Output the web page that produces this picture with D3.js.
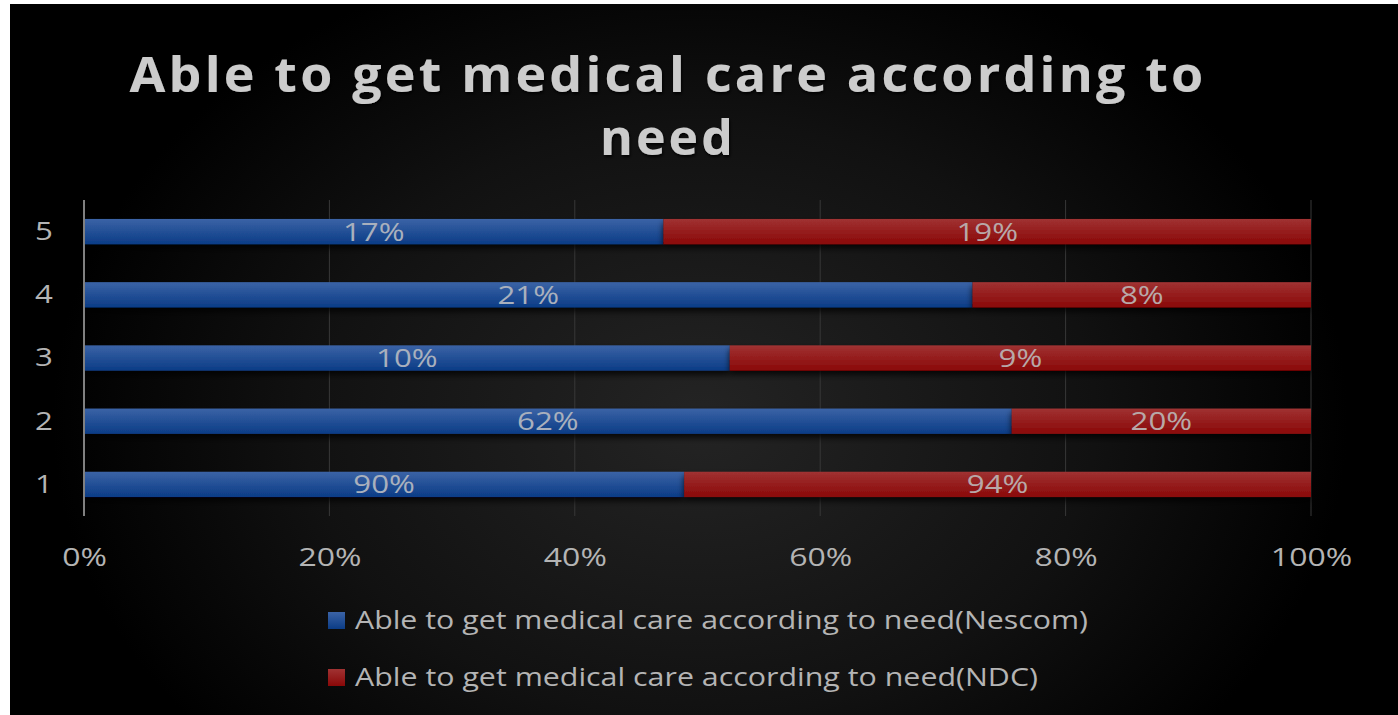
<!DOCTYPE html>
<html><head><meta charset="utf-8">
<script src="https://cdn.jsdelivr.net/npm/d3@7/dist/d3.min.js"></script>
<style>
html,body{margin:0;padding:0;background:#fff;}
svg{display:block;}
text{font-family:"Open Sans",sans-serif;}
</style></head><body>
<svg id="c" width="1398" height="715"></svg>
<script>
const categories = ["1","2","3","4","5"];
const nescom = [90, 62, 10, 21, 17];
const ndc = [94, 20, 9, 8, 19];
const xTicks = [0, 0.2, 0.4, 0.6, 0.8, 1.0];
const seriesNames = ["Able to get medical care according to need(Nescom)", "Able to get medical care according to need(NDC)"];
const titleLines = ["Able to get medical care according to", "need"];

const svg = d3.select("#c");
const W = 1398, H = 715;
const defs = svg.append("defs");

const bg = defs.append("radialGradient").attr("id","bg")
  .attr("gradientUnits","userSpaceOnUse").attr("cx",700).attr("cy",420).attr("r",720)
  .attr("gradientTransform","translate(700,420) scale(1,0.75) translate(-700,-420)");
bg.append("stop").attr("offset","0").attr("stop-color","#242424");
bg.append("stop").attr("offset","0.55").attr("stop-color","#111");
bg.append("stop").attr("offset","0.9").attr("stop-color","#000");
bg.append("stop").attr("offset","1").attr("stop-color","#000");

const gb = defs.append("linearGradient").attr("id","gBlue").attr("x1",0).attr("y1",0).attr("x2",0).attr("y2",1);
gb.append("stop").attr("offset","0").attr("stop-color","#3b63a6");
gb.append("stop").attr("offset","1").attr("stop-color","#0b3c86");
const gr = defs.append("linearGradient").attr("id","gRed").attr("x1",0).attr("y1",0).attr("x2",0).attr("y2",1);
gr.append("stop").attr("offset","0").attr("stop-color","#a03232");
gr.append("stop").attr("offset","1").attr("stop-color","#8a0808");

const sh = defs.append("filter").attr("id","shadow").attr("x","-10%").attr("y","-30%").attr("width","120%").attr("height","180%");
sh.append("feDropShadow").attr("dx",0).attr("dy",4).attr("stdDeviation",3).attr("flood-color","#000").attr("flood-opacity",0.8);
const tsh = defs.append("filter").attr("id","tshadow");
tsh.append("feDropShadow").attr("dx",1).attr("dy",2).attr("stdDeviation",1.5).attr("flood-color","#000").attr("flood-opacity",0.9);

svg.append("rect").attr("x",10).attr("y",4).attr("width",W-10).attr("height",H-4).attr("fill","url(#bg)");

function stretch(sel, k){
  sel.each(function(){
    const w = this.getComputedTextLength();
    d3.select(this).attr("textLength", w*k).attr("lengthAdjust","spacingAndGlyphs");
  });
}

const x = d3.scaleLinear().domain([0,1]).range([84,1311]);
const y = d3.scaleBand().domain(categories.slice().reverse()).range([200,516]).paddingInner(0.6).paddingOuter(0.3);

// gridlines
svg.append("g").selectAll("line").data(xTicks.slice(1)).join("line")
  .attr("x1",d=>x(d)).attr("x2",d=>x(d)).attr("y1",200).attr("y2",516)
  .attr("stroke","#383838").attr("stroke-width",1);

const data = categories.map((c,i)=>({c, a:nescom[i], b:ndc[i], t:nescom[i]+ndc[i]}));

const bars = svg.append("g");
data.forEach(d=>{
  const fa = d.a/d.t;
  bars.append("rect").attr("x",x(0)).attr("y",y(d.c)).attr("width",x(fa)-x(0)).attr("height",y.bandwidth())
    .attr("fill","url(#gBlue)").attr("filter","url(#shadow)");
  bars.append("rect").attr("x",x(fa)).attr("y",y(d.c)).attr("width",x(1)-x(fa)).attr("height",y.bandwidth())
    .attr("fill","url(#gRed)").attr("filter","url(#shadow)");
  bars.append("text").attr("class","vl").attr("x",(x(0)+x(fa))/2).attr("y",y(d.c)+y.bandwidth()/2).attr("dy","0.36em")
    .attr("text-anchor","middle").attr("font-size",25).attr("fill","#a9b0bd").text(d.a+"%");
  bars.append("text").attr("class","vl").attr("x",(x(fa)+x(1))/2).attr("y",y(d.c)+y.bandwidth()/2).attr("dy","0.36em")
    .attr("text-anchor","middle").attr("font-size",25).attr("fill","#b8a8a8").text(d.b+"%");
});
stretch(bars.selectAll("text.vl"), 1.25);

// y axis line
svg.append("line").attr("x1",x(0)).attr("x2",x(0)).attr("y1",200).attr("y2",516).attr("stroke","#808080").attr("stroke-width",2);

// axes labels
const xa = svg.append("g").attr("transform","translate(0,516)")
  .call(d3.axisBottom(x).tickValues(xTicks).tickFormat(d3.format(".0%")).tickSize(0).tickPadding(0));
xa.select(".domain").remove();
xa.selectAll("text").attr("font-size",25).attr("fill","#b4b4b4").attr("y",41).attr("dy","0.36em").attr("font-family","Open Sans");
stretch(xa.selectAll("text"), 1.28);

const ya = svg.append("g").attr("transform","translate(52,0)")
  .call(d3.axisLeft(y).tickSize(0).tickPadding(0));
ya.select(".domain").remove();
ya.selectAll("text").attr("font-size",26).attr("fill","#b4b4b4").attr("text-anchor","middle").attr("x",-8).attr("font-family","Open Sans");
stretch(ya.selectAll("text"), 1.2);

// title
const tg = svg.append("g").attr("filter","url(#tshadow)");
const tW = [1077, 136];
titleLines.forEach((t,i)=>{
  const el = tg.append("text").attr("x",668).attr("y",[92,155][i]).attr("text-anchor","middle")
    .attr("font-size",48).attr("font-weight","bold").attr("fill","#cccccc").attr("letter-spacing",3).text(t);
  el.attr("textLength", tW[i]).attr("lengthAdjust","spacingAndGlyphs");
});

// legend
const leg = svg.append("g");
const legY = [620, 677];
const legCol = ["url(#gBlue)","url(#gRed)"];
const legW = [733, 683];
seriesNames.forEach((s,i)=>{
  leg.append("rect").attr("x",328).attr("y",legY[i]-8).attr("width",17).attr("height",17).attr("fill",legCol[i]);
  const el = leg.append("text").attr("x",355).attr("y",legY[i]).attr("dy","0.36em").attr("font-size",26).attr("fill","#b4b4b4").text(s);
  el.attr("textLength", legW[i]).attr("lengthAdjust","spacingAndGlyphs");
});
</script></body></html>
